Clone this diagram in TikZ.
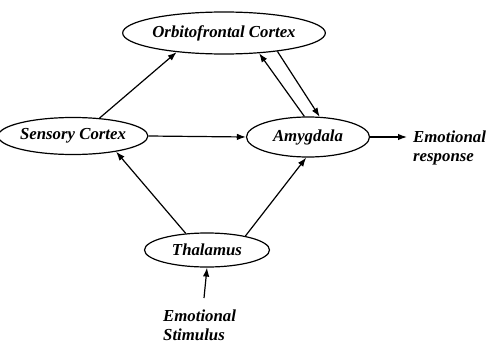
\documentclass[tikz,border=0pt]{standalone}
\usepackage{fontspec}
\setmainfont{Liberation Serif}
\usetikzlibrary{shapes.geometric,arrows.meta}
\begin{document}
\begin{tikzpicture}[x=1pt,y=-1pt,
  every node/.style={font=\fontsize{16.8}{19}\selectfont\bfseries\itshape},
  region/.style={ellipse,draw,line width=1.2pt,inner sep=0pt},
  arr/.style={line width=1.2pt,-{Latex[length=9pt,width=6.5pt]}},
  lab/.style={align=left,inner sep=0pt}]
\useasboundingbox (0,0) rectangle (489,345);
\node[region,minimum width=162pt,minimum height=42pt] (orb) at (224,33) {Orbitofrontal Cortex};
\node[region,minimum width=127pt,minimum height=37pt] (sens) at (73,136) {Sensory Cortex};
\node[region,minimum width=123pt,minimum height=40pt] (amy) at (308,137) {Amygdala};
\node[region,minimum width=125pt,minimum height=34pt] (thal) at (207,250) {Thalamus};
\node[lab,anchor=west] (resp) at (413,148) {Emotional\\response};
\node[lab,anchor=north west] (stim) at (163,310) {Emotional\\Stimulus};
\draw[arr] (sens.34) -- (orb.202);
\draw[arr] (sens.east) -- (amy.west);
\draw[arr] (amy.100) -- (orb.-30);
\draw[arr] (orb.-19) -- (amy.60);
\draw[arr] (thal.142) -- (sens.-20);
\draw[arr] (thal.20) -- (amy.-95);
\draw[arr] (amy.east) -- ([xshift=-6pt]amy.east -| resp.west);
\draw[arr] ([xshift=41pt,yshift=12pt]stim.north west) -- (thal.south);
\end{tikzpicture}
\end{document}
